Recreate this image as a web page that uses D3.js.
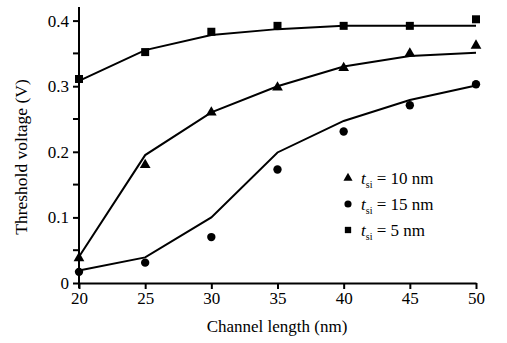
<!DOCTYPE html>
<html><head><meta charset="utf-8">
<script src="https://cdn.jsdelivr.net/npm/d3@7"></script>
<style>body{margin:0;background:#fff}svg{display:block}</style>
</head><body>
<svg id="c" width="507" height="343"></svg>
<script>
const channelLength = [20, 25, 30, 35, 40, 45, 50];
const xTicks = [20, 25, 30, 35, 40, 45, 50];
const yTicks = [0, 0.1, 0.2, 0.3, 0.4];
const yMinorTicks = [0.05, 0.15, 0.25, 0.35];
// measured points
const pts10 = [0.038, 0.18, 0.26, 0.298, 0.328, 0.35, 0.362];
const pts15 = [0.017, 0.031, 0.07, 0.173, 0.231, 0.271, 0.303];
const pts5  = [0.311, 0.352, 0.383, 0.392, 0.392, 0.392, 0.402];
// model lines
const line10 = [0.040, 0.195, 0.260, 0.300, 0.330, 0.346, 0.351];
const line15 = [0.019, 0.039, 0.100, 0.199, 0.247, 0.279, 0.301];
const line5  = [0.308, 0.355, 0.378, 0.387, 0.392, 0.392, 0.392];
const legendLabels = ["10 nm", "15 nm", "5 nm"];

const svg = d3.select("#c");
const font = "'Liberation Serif','Times New Roman',serif";
const x = d3.scaleLinear().domain([20, 50]).range([79, 476]);
const y = d3.scaleLinear().domain([0, 0.4]).range([283, 20.6]);

// lines
const lineGen = d3.line().x((d, i) => x(channelLength[i])).y(d => y(d));
[line10, line15, line5].forEach(arr => {
  svg.append("path").attr("d", lineGen(arr)).attr("fill", "none")
    .attr("stroke", "#000").attr("stroke-width", 2);
});

// axes
const xAxis = svg.append("g").attr("transform", "translate(0,283)")
  .call(d3.axisBottom(x).tickValues(xTicks).tickSize(6).tickSizeOuter(0).tickFormat(d3.format("d")));
xAxis.select(".domain").attr("stroke-width", 2);
xAxis.selectAll(".tick line").attr("stroke-width", 2);
xAxis.selectAll("text").attr("font-family", font).attr("font-size", 17).attr("dy", "0.95em").attr("y", 5).attr("fill", "#000");

const yAxis = svg.append("g").attr("transform", "translate(79,0)")
  .call(d3.axisLeft(y).tickValues(yTicks).tickSize(6).tickSizeOuter(0).tickFormat(d => d === 0 ? "0" : d3.format(".1f")(d)));
yAxis.select(".domain").remove();
yAxis.append("line").attr("x1", 0).attr("x2", 0).attr("y1", 7).attr("y2", 288).attr("stroke", "#000").attr("stroke-width", 2);
yAxis.selectAll(".tick line").attr("stroke-width", 2);
yAxis.selectAll("text").attr("font-family", font).attr("font-size", 17).attr("x", -10).attr("fill", "#000");
yAxis.selectAll(".minor").data(yMinorTicks).enter().append("line")
  .attr("x1", -6).attr("x2", 0).attr("y1", d => y(d)).attr("y2", d => y(d))
  .attr("stroke", "#000").attr("stroke-width", 2);

// markers
const tri = d3.symbol().type(d3.symbolTriangle).size(50);
const cir = d3.symbol().type(d3.symbolCircle).size(55);
const sq = d3.symbol().type(d3.symbolSquare).size(64);
const drawPts = (arr, sym) => svg.append("g").selectAll("path").data(arr).enter().append("path")
  .attr("d", sym).attr("fill", "#000")
  .attr("transform", (d, i) => `translate(${x(channelLength[i])},${y(d)})`);
drawPts(pts10, tri);
drawPts(pts15, cir);
drawPts(pts5, sq);

// axis titles
svg.append("text").attr("x", 277).attr("y", 332).attr("text-anchor", "middle").attr("fill", "#000")
  .attr("font-family", font).attr("font-size", 17).text("Channel length (nm)");
svg.append("text").attr("transform", "translate(27,157) rotate(-90)").attr("text-anchor", "middle").attr("fill", "#000")
  .attr("font-family", font).attr("font-size", 17.5).text("Threshold voltage (V)");

// legend
const legSyms = [d3.symbol().type(d3.symbolTriangle).size(36), d3.symbol().type(d3.symbolCircle).size(40), d3.symbol().type(d3.symbolSquare).size(40)];
const legY = [178, 204, 230];
legendLabels.forEach((lab, i) => {
  svg.append("path").attr("d", legSyms[i]()).attr("fill", "#000")
    .attr("transform", `translate(348,${legY[i]})`);
  const t = svg.append("text").attr("x", 361).attr("y", legY[i] + 6).attr("fill", "#000")
    .attr("font-family", font).attr("font-size", 17);
  t.append("tspan").attr("font-style", "italic").text("t");
  t.append("tspan").attr("font-size", 10).attr("dy", 4).text("si");
  t.append("tspan").attr("dy", -4).text(" = " + lab);
});
</script>
</body></html>
